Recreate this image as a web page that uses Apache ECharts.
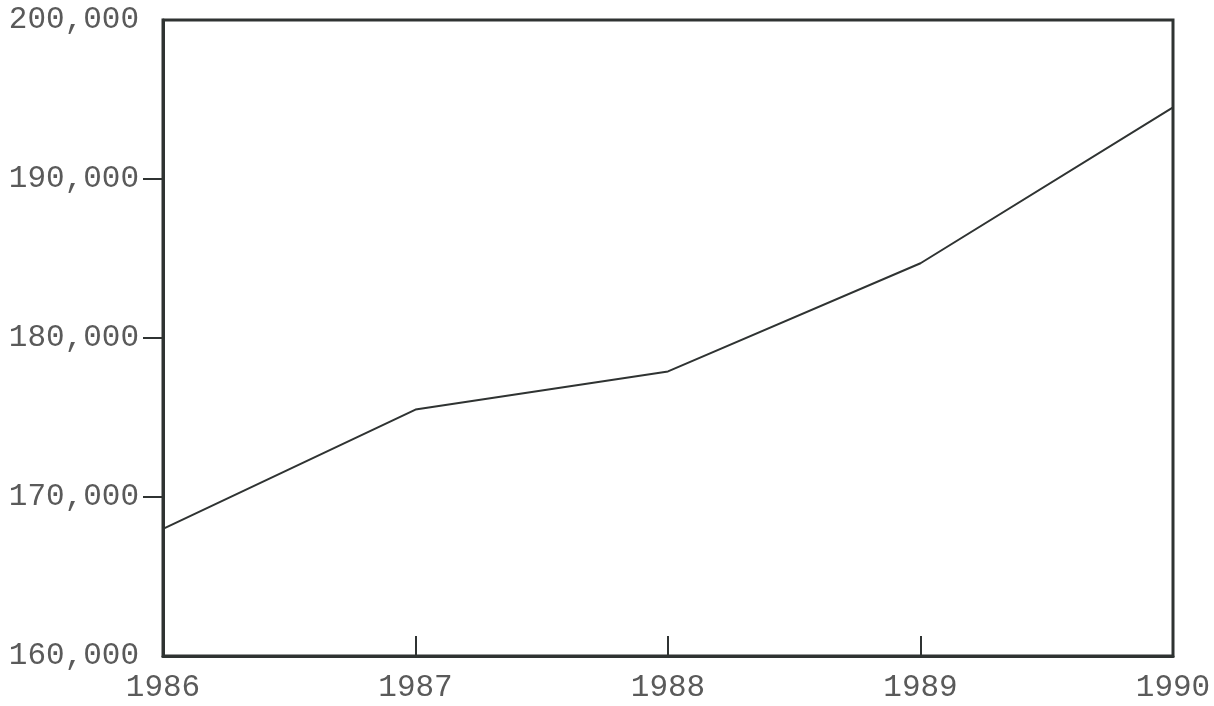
<!DOCTYPE html>
<html>
<head>
<meta charset="utf-8">
<script src="https://cdn.jsdelivr.net/npm/echarts@6/dist/echarts.min.js"></script>
<style>html,body{margin:0;padding:0;background:#fff;}#c{width:1214px;height:706px;}</style>
</head>
<body>
<div id="c"></div>
<script>
const years = ['1986', '1987', '1988', '1989', '1990'];
const values = [168000, 175500, 177900, 184700, 194500];
const yTicks = [160000, 170000, 180000, 190000, 200000];

const chart = echarts.init(document.getElementById('c'), null, {renderer: 'canvas'});
const fontFamily = '"Liberation Mono", "DejaVu Sans Mono", monospace';
chart.setOption({
  animation: false,
  backgroundColor: '#fff',
  grid: {left: 163, right: 41, top: 20, bottom: 50, show: true, borderColor: '#2f3332', borderWidth: 3, backgroundColor: 'transparent'},
  xAxis: {
    type: 'category',
    data: years,
    boundaryGap: false,
    axisLine: {show: true, lineStyle: {color: '#2f3332', width: 3}},
    axisTick: {show: true, inside: true, length: 20, lineStyle: {color: '#2f3332', width: 2},
      interval: function (i) { return i > 0 && i < years.length - 1; }},
    axisLabel: {color: '#5a5a5a', fontFamily: fontFamily, fontSize: 31, margin: 16},
    splitLine: {show: false}
  },
  yAxis: {
    type: 'value',
    min: yTicks[0],
    max: yTicks[yTicks.length - 1],
    interval: 10000,
    axisLine: {show: true, lineStyle: {color: '#2f3332', width: 3}},
    axisTick: {show: true, length: 20, lineStyle: {color: '#2f3332', width: 2},
      customValues: yTicks.slice(1, -1)},
    axisLabel: {color: '#5a5a5a', fontFamily: fontFamily, fontSize: 31, margin: 24,
      formatter: function (v) { return v.toLocaleString('en-US'); }},
    splitLine: {show: false}
  },
  series: [{
    type: 'line',
    data: values,
    symbol: 'none',
    lineStyle: {color: '#2f3332', width: 2}
  }]
});
</script>
</body>
</html>
